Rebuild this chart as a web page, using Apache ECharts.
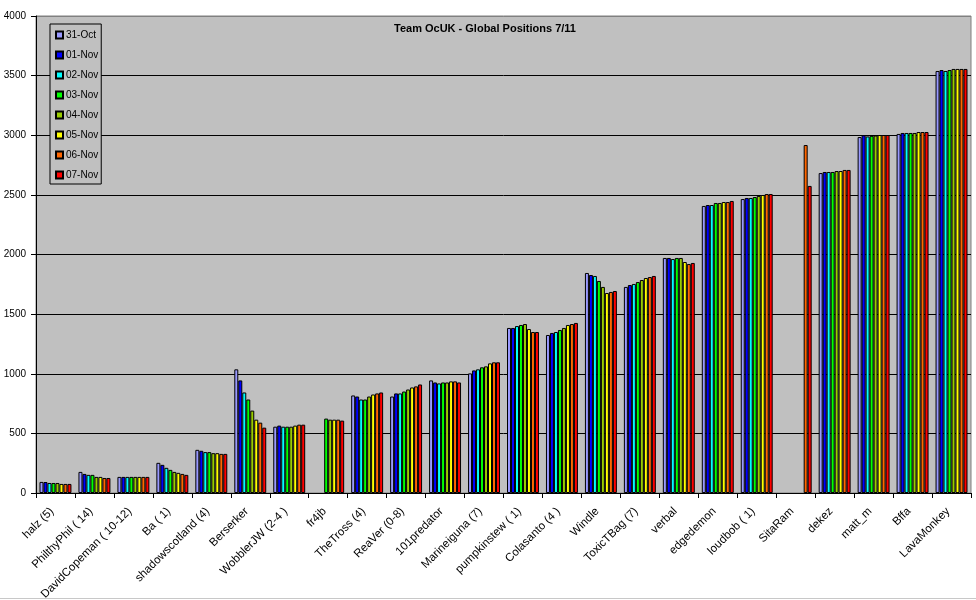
<!DOCTYPE html>
<html>
<head>
<meta charset="utf-8">
<script src="https://cdn.jsdelivr.net/npm/echarts@6/dist/echarts.min.js"></script>
<style>html,body{margin:0;padding:0;background:#fff;}#c{width:976px;height:600px;}</style>
</head>
<body>
<div id="c"></div>
<script>
var categories = ["halz (5)","PhilthyPhil ( 14)","DavidCopeman ( 10-12)","Ba ( 1)","shadowscotland (4)","Berserker","WobblerJW (2-4 )","fr4jb","TheTross (4)","ReaVer (0-8)","101predator","Marineiguna (7)","pumpkinstew ( 1)","Colasanto (4 )","Windle","ToxicTBag (7)","verbal","edgedemon","loudbob ( 1)","SitaRam","dekez","matt_m","Bffa","LavaMonkey"];
var seriesNames = ["31-Oct","01-Nov","02-Nov","03-Nov","04-Nov","05-Nov","06-Nov","07-Nov"];
var d31Oct = [93,177,135,253,362,1037,556,null,818,809,944,1003,1384,1325,1845,1728,1971,2407,2465,null,2683,2985,3011,3539];
var d01Nov = [92,160,135,236,354,944,565,null,809,835,927,1028,1384,1342,1828,1744,1971,2415,2474,null,2692,3000,3019,3547];
var d02Nov = [84,152,135,211,343,843,556,null,784,835,919,1037,1400,1350,1820,1753,1962,2415,2474,null,2692,2990,3019,3539];
var d03Nov = [84,152,135,194,343,784,556,624,784,851,927,1054,1409,1367,1778,1769,1971,2432,2482,null,2692,2995,3019,3547];
var d04Nov = [84,135,135,177,334,691,556,615,809,868,927,1062,1417,1384,1728,1786,1971,2432,2491,null,2700,2998,3019,3556];
var d05Nov = [76,135,135,169,334,615,565,615,826,885,936,1087,1375,1409,1677,1803,1937,2440,2499,null,2700,3002,3027,3556];
var d06Nov = [76,126,135,160,328,590,573,615,835,894,936,1096,1350,1417,1686,1811,1920,2440,2507,2918,2709,3002,3027,3556];
var d07Nov = [76,126,135,152,328,548,573,607,843,910,927,1096,1350,1426,1694,1820,1929,2449,2507,2575,2709,3002,3027,3556];
var yTicks = [0,500,1000,1500,2000,2500,3000,3500,4000];

var colors = ["#9999FF","#0000FF","#00FFFF","#00FF00","#99CC00","#FFFF00","#FF6600","#FF0000"];
var allData = [d31Oct,d01Nov,d02Nov,d03Nov,d04Nov,d05Nov,d06Nov,d07Nov];
var font = "Arial, 'Liberation Sans', sans-serif";

var series = seriesNames.map(function(n,i){
  return {
    name: n, type: 'bar', data: allData[i],
    barGap: '0%', barCategoryGap: '18%',
    itemStyle: {color: colors[i], borderColor: '#000', borderWidth: 1},
    emphasis: {disabled: true}
  };
});

var chart = echarts.init(document.getElementById('c'), null, {renderer: 'canvas'});
chart.setOption({
  animation: false,
  backgroundColor: '#fff',
  title: {text: 'Team OcUK - Global Positions 7/11', left: 394, top: 23, padding: 0,
    textStyle: {fontFamily: font, fontSize: 11, fontWeight: 'bold', color: '#000'}},
  legend: {
    orient: 'vertical', left: 50, top: 24, data: seriesNames,
    itemWidth: 7, itemHeight: 7, itemGap: 10, icon: 'rect',
    backgroundColor: '#C0C0C0', borderColor: '#000', borderWidth: 1,
    padding: [6, 3, 4, 5],
    textStyle: {fontFamily: font, fontSize: 10, color: '#000', padding: [0,0,0,-2]}
  },
  grid: {left: 36, right: 5, top: 16, bottom: 107, show: true, backgroundColor: '#C0C0C0', borderColor: '#808080', borderWidth: 1, containLabel: false, outerBoundsMode: 'none'},
  xAxis: {
    type: 'category', data: categories,
    axisLine: {lineStyle: {color: '#000', width: 1}},
    axisTick: {show: true, length: 5, lineStyle: {color: '#000'}},
    axisLabel: {rotate: 45, fontFamily: font, fontSize: 11.5, color: '#000', margin: 13, interval: 0, padding: [0, 5, 0, 0]}
  },
  yAxis: {
    type: 'value', min: 0, max: 4000, interval: 500,
    axisLine: {show: true, lineStyle: {color: '#000', width: 1}},
    axisTick: {show: true, length: 5, lineStyle: {color: '#000'}},
    axisLabel: {fontFamily: font, fontSize: 10, color: '#000', margin: 10, formatter: function(v){ return String(v); }},
    splitLine: {show: true, lineStyle: {color: ['#000','#000','#000','#000','#000','#000','#000','#000','#808080'], width: 1}}
  },
  graphic: [{type: 'line', shape: {x1: 0, y1: 598.5, x2: 976, y2: 598.5}, style: {stroke: '#C8C8C8', lineWidth: 1}, silent: true}],
  series: series
});
</script>
</body>
</html>
